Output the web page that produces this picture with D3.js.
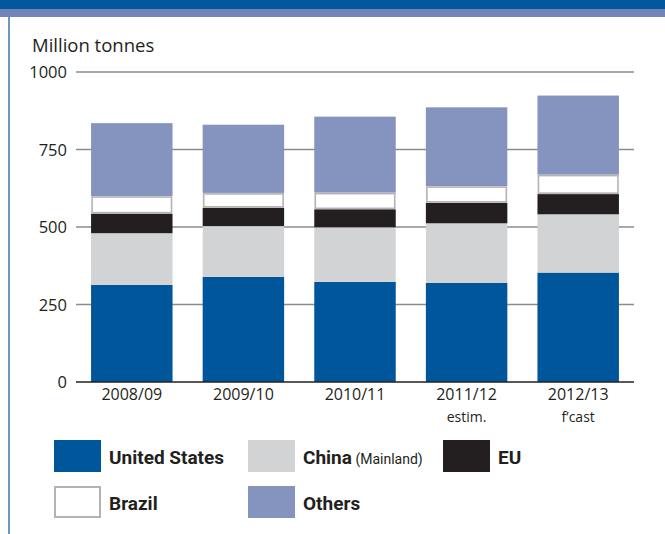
<!DOCTYPE html>
<html><head><meta charset="utf-8">
<script src="https://cdn.jsdelivr.net/npm/d3@7"></script>
<style>
html,body{margin:0;padding:0;background:#fff;}
svg{display:block;font-family:"Open Sans",sans-serif;}
</style></head>
<body><svg id="c" width="665" height="534"></svg>
<script>
const categories = ["2008/09","2009/10","2010/11","2011/12","2012/13"];
const subLabels = ["","","","estim.","f\u2019cast"];
const seriesNames = ["United States","China","EU","Brazil","Others"];
const unitedStates = [313, 339, 323, 320, 353];
const china = [167, 164, 176, 192, 188];
const eu = [63, 59, 58, 66, 65];
const brazil = [57, 48, 54, 54, 63];
const others = [235, 220, 245, 254, 255];
const yTicks = [0, 250, 500, 750, 1000];
const colors = ["#00569a","#d1d3d4","#231f20","#ffffff","#8594bf"];

const svg = d3.select("#c");
// header bands
svg.append("rect").attr("x",0).attr("y",0).attr("width",665).attr("height",9).attr("fill","#00579b");
svg.append("rect").attr("x",0).attr("y",9).attr("width",665).attr("height",8).attr("fill","#7186b8");
svg.append("line").attr("x1",9).attr("x2",9).attr("y1",17).attr("y2",534).attr("stroke","#6f96bd").attr("stroke-width",2);

const x = d3.scaleBand().domain(categories).range([76,634]).paddingInner(0.27).paddingOuter(0.135);
const y = d3.scaleLinear().domain([0,1000]).range([382,72]);

// gridlines
svg.append("g").selectAll("line").data(yTicks.filter(d=>d>0)).join("line")
  .attr("x1",76).attr("x2",634).attr("y1",d=>y(d)).attr("y2",d=>y(d))
  .attr("stroke","#8c8c8c").attr("stroke-width",1.4);

// y axis labels
const yAxis = d3.axisLeft(y).tickValues(yTicks).tickSize(0).tickPadding(9).tickFormat(d3.format("d"));
const gy = svg.append("g").attr("transform","translate(76,0)").call(yAxis);
gy.select(".domain").remove();
gy.selectAll("text").attr("font-size",16.5).attr("fill","#231f20").attr("font-family","'Open Sans',sans-serif").attr("dy","0.35em");

svg.append("text").attr("x",32).attr("y",52).attr("font-size",18.5).attr("fill","#231f20").text("Million tonnes");

// stacked data
const rows = categories.map((c,i)=>({cat:c,"United States":unitedStates[i],"China":china[i],"EU":eu[i],"Brazil":brazil[i],"Others":others[i]}));
const stack = d3.stack().keys(seriesNames)(rows);
const g = svg.append("g");
stack.forEach((s,si)=>{
  g.append("g").selectAll("rect").data(s).join("rect")
   .attr("x",d=>x(d.data.cat)+(si===3?1:0))
   .attr("width",x.bandwidth()-(si===3?2:0))
   .attr("y",d=>y(d[1])+(si===3?1:0))
   .attr("height",d=>y(d[0])-y(d[1])-(si===3?2:0))
   .attr("fill",colors[si])
   .attr("stroke",si===3?"#b3b3b3":"none")
   .attr("stroke-width",si===3?1.6:0);
});

// x axis
const xAxis = d3.axisBottom(x).tickSize(0).tickPadding(7);
const gx = svg.append("g").attr("transform","translate(0,382)").call(xAxis);
gx.select(".domain").remove();
gx.selectAll("text").attr("font-size",16).attr("fill","#231f20").attr("font-family","'Open Sans',sans-serif");
svg.append("line").attr("x1",76).attr("x2",634).attr("y1",382).attr("y2",382).attr("stroke","#231f20").attr("stroke-width",1.6);
svg.append("g").selectAll("text").data(categories.map((c,i)=>({c,s:subLabels[i]})).filter(d=>d.s)).join("text")
  .attr("x",d=>x(d.c)+x.bandwidth()/2).attr("y",422).attr("text-anchor","middle")
  .attr("font-size",14).attr("fill","#231f20").text(d=>d.s);

// legend
const legend = [
  {name:"United States",sub:"",c:0,x:54,y:440},
  {name:"China",sub:" (Mainland)",c:1,x:248,y:440},
  {name:"EU",sub:"",c:2,x:443,y:440},
  {name:"Brazil",sub:"",c:3,x:54,y:486},
  {name:"Others",sub:"",c:4,x:248,y:486}
];
const lg = svg.append("g").selectAll("g").data(legend).join("g");
lg.append("rect").attr("x",d=>d.x+(d.c===3?1:0)).attr("y",d=>d.y+(d.c===3?1:0))
  .attr("width",d=>d.c===3?45:47).attr("height",d=>d.c===3?30:32)
  .attr("fill",d=>colors[d.c]).attr("stroke",d=>d.c===3?"#b3b3b3":"none").attr("stroke-width",2);
const lt = lg.append("text").attr("x",d=>d.x+55).attr("y",d=>d.y+24).attr("fill","#231f20")
  .attr("font-family","Roboto,sans-serif");
lt.append("tspan").attr("font-size",19).attr("font-weight","bold").text(d=>d.name);
lt.append("tspan").attr("font-size",14).text(d=>d.sub);
</script></body></html>
